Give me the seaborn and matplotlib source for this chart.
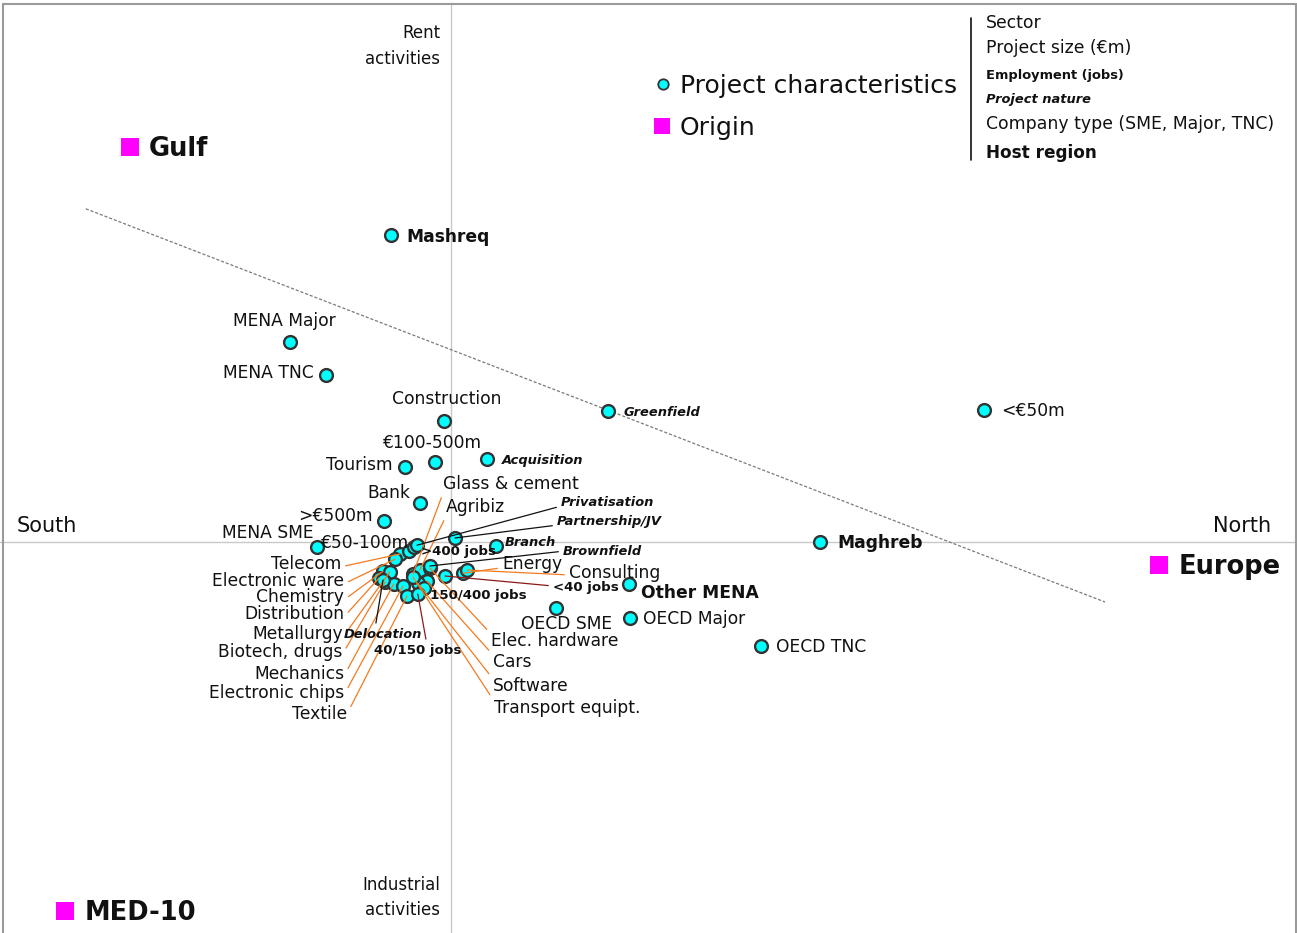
import matplotlib
matplotlib.use("Agg")
import matplotlib.pyplot as plt
import pandas as pd
import seaborn as sns
from matplotlib.lines import Line2D

# ==============================================================================
# Factor scores (axis 1 = South/North, axis 2 = industrial/rent activities)
# ==============================================================================
labels = [
    "Construction", "Tourism", "Bank", "Glass & cement", "Agribiz", "Energy",
    "Consulting", "Telecom", "Electronic ware", "Chemistry", "Distribution",
    "Metallurgy", "Biotech, drugs", "Mechanics", "Electronic chips", "Textile",
    "Elec. hardware", "Cars", "Software", "Transport equipt.",
    "<€50m", "€100-500m", ">€500m", "€50-100m",
    ">400 jobs", "150/400 jobs", "40/150 jobs", "<40 jobs",
    "Greenfield", "Acquisition", "Privatisation", "Partnership/JV", "Branch",
    "Brownfield", "Delocation",
    "MENA Major", "MENA TNC", "MENA SME", "OECD SME", "OECD Major", "OECD TNC",
    "Mashreq", "Maghreb", "Other MENA",
]
dim1 = [
    -0.018, -0.115, -0.078, -0.095, -0.078, 0.030,
    0.040, -0.128, -0.140, -0.170, -0.180,
    -0.153, -0.165, -0.143, -0.120, -0.110,
    -0.053, -0.060, -0.083, -0.095,
    1.333, -0.040, -0.168, -0.105,
    -0.093, -0.068, -0.083, -0.015,
    0.393, 0.090, -0.085, 0.010, 0.113,
    -0.053, -0.170,
    -0.403, -0.313, -0.335, 0.263, 0.448, 0.775,
    -0.150, 0.923, 0.445,
]
dim2 = [
    0.303, 0.188, 0.098, -0.080, -0.070, -0.078,
    -0.070, -0.030, -0.043, -0.073, -0.090,
    -0.075, -0.100, -0.105, -0.110, -0.135,
    -0.065, -0.098, -0.103, -0.088,
    0.330, 0.200, 0.053, -0.023,
    -0.013, -0.115, -0.130, -0.085,
    0.328, 0.208, -0.008, 0.010, -0.010,
    -0.060, -0.095,
    0.500, 0.418, -0.013, -0.165, -0.190, -0.260,
    0.768, 0.000, -0.105,
]
groups = (["sector"] * 20 + ["size"] * 4 + ["jobs"] * 4 + ["nature"] * 7
          + ["company"] * 6 + ["host"] * 3)

origin_labels = ["Gulf", "Europe", "MED-10"]
origin_dim1 = [-0.803, 1.770, -0.965]
origin_dim2 = [0.988, -0.058, -0.923]

# dotted separation line
split_dim1 = [-0.913, 1.635]
split_dim2 = [0.833, -0.150]

df = pd.DataFrame({"label": labels, "d1": dim1, "d2": dim2, "group": groups})
orig = pd.DataFrame({"label": origin_labels, "d1": origin_dim1, "d2": origin_dim2})

# ==============================================================================
# Label layout (figure pixels from top-left), alignment and leader anchor
# ==============================================================================
layout = {
    "Construction": (447, 398, "center", None),
    "Tourism": (393, 464, "right", None),
    "Bank": (410, 492, "right", None),
    "Glass & cement": (443, 483, "left", (0.0, 0.0)),
    "Agribiz": (446, 506, "left", (0.0, 0.0)),
    "Energy": (502, 563, "left", (0.0, 0.3)),
    "Consulting": (569, 572, "left", (0.0, 0.4)),
    "Telecom": (341, 563, "right", (1.0, 0.35)),
    "Electronic ware": (344, 580, "right", (1.0, 0.35)),
    "Chemistry": (344, 596, "right", (1.0, 0.35)),
    "Distribution": (344, 613, "right", (1.0, 0.35)),
    "Metallurgy": (343, 633, "right", (1.0, 0.35)),
    "Biotech, drugs": (342, 651, "right", (1.0, 0.35)),
    "Mechanics": (344, 673, "right", (1.0, 0.4)),
    "Electronic chips": (344, 692, "right", (1.0, 0.4)),
    "Textile": (347, 713, "right", (1.0, 0.5)),
    "Elec. hardware": (491, 640, "left", (0.0, 0.9)),
    "Cars": (493, 661, "left", (0.0, 0.9)),
    "Software": (493, 685, "left", (0.0, 0.9)),
    "Transport equipt.": (494, 707, "left", (0.0, 0.9)),
    "<€50m": (1001, 410, "left", None),
    "€100-500m": (433, 442, "center", None),
    ">€500m": (373, 515, "right", None),
    "€50-100m": (409, 542, "right", None),
    ">400 jobs": (421, 550, "left", None),
    "150/400 jobs": (430, 594, "left", None),
    "40/150 jobs": (418, 649, "center", (0.6, 1.0)),
    "<40 jobs": (553, 586, "left", (0.0, 0.6)),
    "Greenfield": (624, 411, "left", None),
    "Acquisition": (502, 459, "left", None),
    "Privatisation": (561, 501, "left", (0.0, 0.2)),
    "Partnership/JV": (557, 520, "left", (0.0, 0.2)),
    "Branch": (505, 541, "left", None),
    "Brownfield": (563, 550, "left", (0.0, 0.5)),
    "Delocation": (383, 633, "center", (0.4, 1.0)),
    "MENA Major": (284, 320, "center", None),
    "MENA TNC": (314, 372, "right", None),
    "MENA SME": (268, 532, "center", None),
    "OECD SME": (567, 623, "center", None),
    "OECD Major": (643, 618, "left", None),
    "OECD TNC": (776, 646, "left", None),
    "Mashreq": (406, 236, "left", None),
    "Maghreb": (837, 542, "left", None),
    "Other MENA": (641, 592, "left", None),
}
origin_layout = {"Gulf": (149, 147), "Europe": (1179, 565), "MED-10": (85, 911)}

styles = {
    "sector": dict(fontsize=12.3, fontweight="normal", fontstyle="normal"),
    "size": dict(fontsize=12.3, fontweight="normal", fontstyle="normal"),
    "company": dict(fontsize=12.3, fontweight="normal", fontstyle="normal"),
    "host": dict(fontsize=12.3, fontweight="bold", fontstyle="normal"),
    "jobs": dict(fontsize=9.6, fontweight="bold", fontstyle="normal"),
    "nature": dict(fontsize=9.4, fontweight="bold", fontstyle="italic"),
}
leader_colors = {"sector": "#F47A1F", "jobs": "#8B1A1A", "nature": "#111111"}

CYAN = "#00FFFF"
MAGENTA = "#FF00FF"
EDGE = "#333333"

W, H = 1297, 933

sns.set_style("white")
plt.rcParams["font.family"] = ["DejaVu Sans"]

fig = plt.figure(figsize=(W / 100, H / 100), dpi=100)
ax = fig.add_axes([0, 0, 1, 1])
ax.set_xlim((0 - 451) / 400, (W - 451) / 400)
ax.set_ylim((542 - H) / 400, 542 / 400)
ax.axis("off")


def baseline(py, fs):
    # convert a visual text centre (from top) to a baseline in figure pixels
    return H - py - 0.36 * fs * 100 / 72


# frame and principal axes
frame_kw = dict(color="#9a9a9a", lw=1.5)
fig.add_artist(Line2D([3 / W, 3 / W], [0, 1 - 4 / H], **frame_kw))
fig.add_artist(Line2D([3 / W, 1296 / W], [1 - 4 / H, 1 - 4 / H], **frame_kw))
fig.add_artist(Line2D([1296 / W, 1296 / W], [0, 1 - 4 / H], **frame_kw))
ax.axhline(0, color="#c8c8c8", lw=1.0, zorder=1)
ax.axvline(0, ymax=1 - 5 / H, color="#c8c8c8", lw=1.0, zorder=1)

ax.plot(split_dim1, split_dim2, color="#7a7a7a", lw=0.9, ls=(0, (2.5, 1.5)), zorder=1)

# points
sns.scatterplot(data=df, x="d1", y="d2", color=CYAN, edgecolor=EDGE,
                linewidth=1.7, s=85, zorder=3, ax=ax, legend=False)
sns.scatterplot(data=orig, x="d1", y="d2", color=MAGENTA, marker="s",
                linewidth=0, s=170, zorder=3, ax=ax, legend=False)

# point labels with leaders
for _, r in df.iterrows():
    tx, ty, ha, rel = layout[r["label"]]
    st = styles[r["group"]]
    kw = dict(xy=(r["d1"], r["d2"]), xycoords="data",
              xytext=(tx, baseline(ty, st["fontsize"])), textcoords="figure pixels",
              ha=ha, va="baseline", color="#111111", zorder=5, **st)
    if rel is not None:
        kw["arrowprops"] = dict(arrowstyle="-", color=leader_colors[r["group"]],
                                lw=0.9, shrinkA=1, shrinkB=0, relpos=rel)
    ax.annotate(r["label"], **kw)

for _, r in orig.iterrows():
    tx, ty = origin_layout[r["label"]]
    ax.annotate(r["label"], xy=(tx, baseline(ty, 18.5)), xycoords="figure pixels",
                ha="left", va="baseline", fontsize=18.5, fontweight="bold",
                color="#111111")


# axis direction labels
def ftext(s, px, py, fs, ha="left", **kw):
    fig.text(px / W, baseline(py, fs) / H, s, fontsize=fs, ha=ha, va="baseline",
             color="#111111", **kw)


ftext("South", 47, 524, 15, ha="center")
ftext("North", 1242, 524, 15, ha="center")
ftext("Rent", 440, 32, 12, ha="right")
ftext("activities", 440, 58, 12, ha="right")
ftext("Industrial", 440, 884, 12, ha="right")
ftext("activities", 440, 909, 12, ha="right")

# legend
fig.add_artist(Line2D([663 / W], [1 - 84 / H], marker="o", color=CYAN,
                      markeredgecolor=EDGE, markeredgewidth=1.3, markersize=7.5, lw=0))
fig.add_artist(Line2D([662 / W], [1 - 126 / H], marker="s", color=MAGENTA,
                      markeredgewidth=0, markersize=12, lw=0))
ftext("Project characteristics", 680, 84, 18)
ftext("Origin", 680, 126, 18)

fig.add_artist(Line2D([971 / W, 971 / W], [1 - 18 / H, 1 - 160 / H], color="#111111", lw=1.2))
ftext("Sector", 986, 22, 12.4)
ftext("Project size (€m)", 986, 47, 12.4)
ftext("Employment (jobs)", 986, 74, 9.4, fontweight="bold")
ftext("Project nature", 986, 98, 9.4, fontweight="bold", fontstyle="italic")
ftext("Company type (SME, Major, TNC)", 986, 123, 12.4)
ftext("Host region", 986, 152, 12.2, fontweight="bold")

fig.savefig("out.png", dpi=100)
